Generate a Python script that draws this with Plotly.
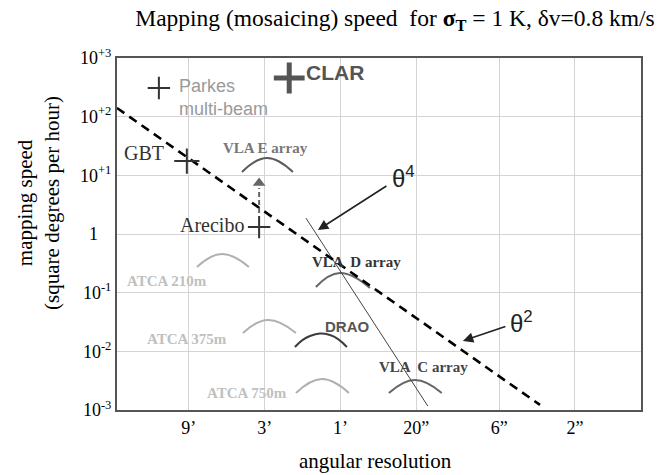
import plotly.graph_objects as go
import numpy as np

# ---------------- data (angular resolution in arcsec, mapping speed in deg^2/hr) ----------------
tick_vals_x = [540, 180, 60, 20, 6, 2]
tick_text_x = ["9’", "3’", "1’", "20”", "6”", "2”"]
tick_vals_y = [3, 2, 1, 0, -1, -2, -3]
tick_text_y = ["10<sup>+3</sup>", "10<sup>+2</sup>", "10<sup>+1</sup>", "1&nbsp;&nbsp;&nbsp;",
               "10<sup>-1</sup>", "10<sup>-2</sup>", "10<sup>-3</sup>"]

# single-dish / special instruments (+ markers)
point_names = ["Parkes", "CLAR", "GBT", "Arecibo"]
point_theta = [834, 126, 556, 195]
point_speed = [308, 456, 17.5, 1.31]

# theta^2 (dashed) and theta^4 (thin) scaling lines
theta2_theta = [1532, 3.32]
theta2_speed = [140.6, 0.00122]
theta4_theta = [98.9, 16.9]
theta4_speed = [1.87, 0.00117]

# Arecibo upgrade arrow
arecibo_arrow_theta = [195, 195]
arecibo_arrow_speed = [2.28, 6.1]
arecibo_head_speed = 7.4

# interferometer arcs: theta points and speed points
arc_names = ["VLA E array", "ATCA 210m", "ATCA 375m", "ATCA 750m", "DRAO", "VLA D array", "VLA C array"]
arc_theta = [
    [250, 174, 119.4],
    [480.5, 334.5, 226],
    [246.6, 171.6, 114.3],
    [114.3, 78.4, 53.0],
    [116.0, 93.3, 69.8, 54.6],
    [85.6, 60.4, 39.1],
    [29.7, 20.4, 13.8],
]
arc_speed = [
    [11.4, 19.8, 11.4],
    [0.274, 0.456, 0.274],
    [0.0206, 0.0342, 0.0206],
    [0.00195, 0.00338, 0.00195],
    [0.01186, 0.01828, 0.0190, 0.01186],
    [0.125, 0.216, 0.120],
    [0.00195, 0.00325, 0.00195],
]
arc_colors = ["#5a5a5a", "#b0b0b0", "#b0b0b0", "#b0b0b0", "#3c3c3c", "#666666", "#666666"]

SERIF = "Liberation Serif"
SANS = "Liberation Sans"

fig = go.Figure()

# arcs
for name, th, sp, col in zip(arc_names, arc_theta, arc_speed, arc_colors):
    fig.add_trace(go.Scatter(x=th, y=sp, mode="lines", line=dict(color=col, width=2, shape="spline", smoothing=1.3),
                             name=name, hoverinfo="name"))

# theta^4 thin line
fig.add_trace(go.Scatter(x=theta4_theta, y=theta4_speed, mode="lines",
                         line=dict(color="#444444", width=1), name="θ^4"))
# theta^2 dashed line
fig.add_trace(go.Scatter(x=theta2_theta, y=theta2_speed, mode="lines",
                         line=dict(color="black", width=2.6, dash="9px,6px"), name="θ^2"))

# Arecibo arrow
fig.add_trace(go.Scatter(x=arecibo_arrow_theta, y=arecibo_arrow_speed, mode="lines",
                         line=dict(color="#666666", width=2, dash="5px,3px"), name="Arecibo upgrade"))
fig.add_trace(go.Scatter(x=[arecibo_arrow_theta[0]], y=[arecibo_head_speed], mode="markers",
                         marker=dict(symbol="triangle-up", size=11, color="#666666"), name="arrowhead"))

# + markers
sizes = [16, 22, 18, 16]
widths = [2, 5, 2, 2]
cols = ["#333333", "#555555", "#333333", "#333333"]
for n, t, s, sz, w, c in zip(point_names, point_theta, point_speed, sizes, widths, cols):
    fig.add_trace(go.Scatter(x=[t], y=[s], mode="markers", name=n,
                             marker=dict(symbol="cross-thin", size=sz, line=dict(width=w, color=c))))

L = np.log10
anns = []
def txt(text, th, sp, size, color, family, xanchor="center", yanchor="middle", align="center"):
    anns.append(dict(text=text, x=L(th), y=L(sp), xref="x", yref="y", showarrow=False, align=align,
                     font=dict(size=size, color=color, family=family), xanchor=xanchor, yanchor=yanchor))

txt("Parkes<br>multi-beam", 642, 216, 18, "#9a9a9a", SANS, xanchor="left", align="left")
txt("<b>CLAR</b>", 101.8, 577, 21, "#555555", SANS, xanchor="left")
txt("GBT", 753, 24.0, 20, "#333333", SERIF, xanchor="right")
txt("Arecibo", 236, 1.42, 20, "#333333", SERIF, xanchor="right")
txt("<b>VLA E array</b>", 179, 29.2, 15, "#777777", SERIF)
txt("<b>ATCA 210m</b>", 742, 0.158, 15, "#c0c0c0", SERIF)
txt("<b>ATCA 375m</b>", 555, 0.0162, 15, "#c0c0c0", SERIF)
txt("<b>ATCA 750m</b>", 233, 0.00195, 15, "#c0c0c0", SERIF)
txt("<b>VLA  D array</b>", 47.2, 0.333, 15, "#333333", SERIF)
txt("<b>DRAO</b>", 54.6, 0.026, 15, "#555555", SANS)
txt("<b>VLA  C array</b>", 18.1, 0.0054, 15, "#444444", SERIF)
txt("θ<sup>4</sup>", 23.9, 9.4, 24, "#222222", SANS)
txt("θ<sup>2</sup>", 4.32, 0.0316, 24, "#222222", SANS)

# arrows pointing at the scaling lines
anns.append(dict(x=1.9197, y=0.0684, xref="x", yref="y", ax=70, ay=-45, showarrow=True,
                 arrowhead=2, arrowsize=1.3, arrowwidth=1.6, arrowcolor="#222222", text=""))
anns.append(dict(x=1.0066, y=-1.8236, xref="x", yref="y", ax=44, ay=-15, showarrow=True,
                 arrowhead=2, arrowsize=1.3, arrowwidth=1.6, arrowcolor="#222222", text=""))

# axis titles
anns.append(dict(text="mapping speed<br>(square degrees per hour)", x=-0.151, y=0.588, xref="paper", yref="paper",
                 xanchor="center", yanchor="middle",
                 textangle=-90, showarrow=False, font=dict(size=21, family=SERIF, color="black")))
anns.append(dict(text="angular resolution", x=0.493, y=-0.145, xref="paper", yref="paper",
                 xanchor="center", yanchor="middle",
                 showarrow=False, font=dict(size=21, family=SERIF, color="black")))

fig.update_layout(
    width=665, height=475,
    margin=dict(l=117, r=24, t=58, b=65, autoexpand=False),
    paper_bgcolor="white", plot_bgcolor="white",
    showlegend=False,
    title=dict(text="Mapping (mosaicing) speed  for <b>σ<sub>T</sub></b> = 1 K, δv=0.8 km/s",
               x=0.594, xanchor="center", y=0.962, yanchor="middle",
               font=dict(size=23.5, family=SERIF, color="black")),
    annotations=anns,
    shapes=[dict(type="rect", xref="paper", yref="paper", x0=0.34, x1=0.47, y0=0.9, y1=0.995,
                 fillcolor="white", line=dict(width=0), layer="between")],
)
fig.update_xaxes(type="log", range=[3.185, -0.115], tickvals=tick_vals_x, ticktext=tick_text_x,
                 showgrid=True, gridcolor="#d4d4d4", gridwidth=1, zeroline=False, automargin=False,
                 showline=True, mirror=True, linecolor="#555555", linewidth=2, ticks="",
                 tickfont=dict(size=18, family=SERIF, color="black"))
fig.update_yaxes(type="log", range=[-3, 3], tickvals=[10.0**v for v in tick_vals_y], ticktext=tick_text_y,
                 showgrid=True, gridcolor="#d4d4d4", gridwidth=1, zeroline=False, automargin=False,
                 showline=True, mirror=True, linecolor="#555555", linewidth=2, ticks="",
                 tickfont=dict(size=18, family=SERIF, color="black"))

fig.write_html("out.html", config={"displayModeBar": False},
               post_script="document.body.style.margin='0px';")
